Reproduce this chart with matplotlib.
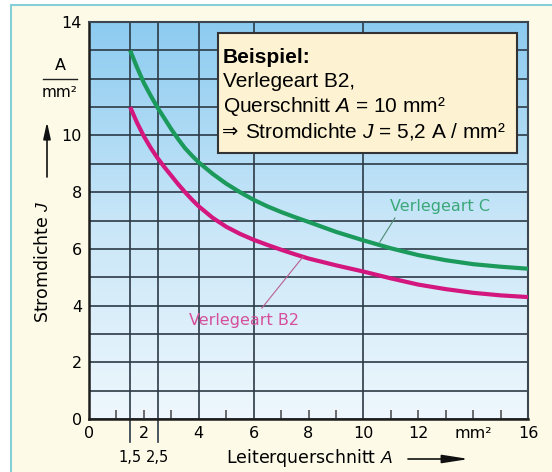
import numpy as np
import matplotlib.pyplot as plt
import matplotlib.transforms as mtransforms
from matplotlib.colors import LinearSegmentedColormap
from matplotlib.patches import Rectangle

plt.rcParams['font.family'] = ['DejaVu Sans']
plt.rcParams['mathtext.fontset'] = 'custom'
plt.rcParams['mathtext.rm'] = 'Liberation Sans'
plt.rcParams['mathtext.it'] = 'Liberation Sans:italic'
plt.rcParams['mathtext.bf'] = 'Liberation Sans:bold'

# Leiterquerschnitt A in mm^2
querschnitt = [1.5, 1.75, 2, 2.25, 2.5, 2.75, 3, 3.25, 3.5, 3.75, 4, 4.5, 5,
               5.5, 6, 6.5, 7, 7.5, 8, 9, 10, 11, 12, 13, 14, 15, 16]
# Stromdichte J in A/mm^2
j_verlegeart_c = [13.0, 12.4, 11.85, 11.4, 10.98, 10.6, 10.22, 9.87, 9.55,
                  9.29, 9.05, 8.65, 8.3, 8.0, 7.73, 7.5, 7.3, 7.12, 6.95,
                  6.6, 6.3, 6.02, 5.78, 5.6, 5.46, 5.37, 5.3]
j_verlegeart_b2 = [11.0, 10.45, 9.97, 9.56, 9.2, 8.88, 8.58, 8.28, 8.0,
                   7.74, 7.5, 7.1, 6.78, 6.53, 6.32, 6.14, 5.97, 5.81, 5.66,
                   5.42, 5.2, 4.96, 4.74, 4.58, 4.45, 4.36, 4.3]

x_ticks = [0, 2, 4, 6, 8, 10, 12, 14, 16]
x_ticklabels = ['0', '2', '4', '6', '8', '10', '12', 'mm²', '16']
x_minor = [1, 2, 3, 5, 7, 8, 9, 11, 12, 13, 14, 15]
x_grid = [1.5, 2.5, 4, 6, 10]
x_extra = [1.5, 2.5]
x_extra_labels = ['1,5', '2,5']
y_ticks = [0, 2, 4, 6, 8, 10, 12, 14]
y_ticklabels = ['0', '2', '4', '6', '8', '10', '', '14']

W, H = 552, 472
GRID = '#2c3a46'

fig = plt.figure(figsize=(W / 100, H / 100), dpi=100)
fig.patch.set_facecolor('white')

# cream page with cyan frame
fig.add_artist(Rectangle((11 / W, -0.1), 1.2, 1 - 5 / H + 0.1,
                         transform=fig.transFigure, facecolor='#fdfbe8',
                         edgecolor='#86cfd8', lw=1.5, zorder=0))

ax = fig.add_axes([89 / W, 1 - 419 / H, 439 / W, 397 / H])
ax.set_xlim(0, 16)
ax.set_ylim(0, 14)

# blue gradient background
cmap = LinearSegmentedColormap.from_list('bg', ['#eef7fd', '#c8e6f8', '#8ccbf0'])
ax.imshow(np.linspace(0, 1, 256)[:, None], cmap=cmap, origin='lower',
          extent=[0, 16, 0, 14], aspect='auto', zorder=0)

# grid
ax.set_yticks(y_ticks, y_ticklabels)
ax.set_yticks(range(15), minor=True)
ax.grid(axis='y', which='both', color=GRID, lw=1.2)
ax.grid(axis='x', visible=False)
for xv in x_grid:
    ax.axvline(xv, color=GRID, lw=1.2, zorder=1.5)

# ticks
ax.set_xticks(x_ticks, x_ticklabels)
ax.set_xticks(x_minor, minor=True)
ax.xaxis.remove_overlapping_locs = False
ax.tick_params(axis='x', which='major', length=0, pad=5, labelsize=11.5)
ax.tick_params(axis='x', which='minor', direction='in', length=6.5,
               width=1.1, color='#444444')
ax.tick_params(axis='y', which='major', length=0, pad=5, labelsize=11.5)
ax.tick_params(axis='y', which='minor', length=0)

for side in ['left', 'bottom']:
    ax.spines[side].set_color('#1e1e1e')
    ax.spines[side].set_linewidth(1.8)
for side in ['top', 'right']:
    ax.spines[side].set_color('#3c4650')
    ax.spines[side].set_linewidth(1.5)

# extra marks for 1,5 and 2,5
xtrans = ax.get_xaxis_transform()
for xv, lab in zip(x_extra, x_extra_labels):
    ax.plot([xv, xv], [0, -23 / 397], transform=xtrans, color=GRID,
            lw=1.2, clip_on=False)
    ax.text(xv, -39 / 397, lab, transform=xtrans, ha='center', va='center',
            fontsize=10.5)

# curves
ax.plot(querschnitt, j_verlegeart_c, color='#1b9a5c', lw=3, zorder=3,
        solid_capstyle='butt', solid_joinstyle='round')
ax.plot(querschnitt, j_verlegeart_b2, color='#d3177f', lw=3, zorder=3,
        solid_capstyle='butt', solid_joinstyle='round')

ax.text(12.8, 7.51, 'Verlegeart C', color='#3aa878', fontsize=11.5,
        ha='center', va='center', zorder=4)
ax.plot([11.15, 10.6], [7.09, 6.24], color='#4c8a72', lw=0.8, zorder=4)
ax.text(5.65, 3.49, 'Verlegeart B2', color='#d64f9c', fontsize=11.5,
        ha='center', va='center', zorder=4)
ax.plot([6.3, 7.8], [3.91, 5.72], color='#b8608f', lw=0.8, zorder=4)

# example box
ax.add_patch(Rectangle((0.294, 0.670), 0.681, 0.302, transform=ax.transAxes,
                       facecolor='#fdf3d2', edgecolor='#333333', lw=1.5,
                       zorder=5))
box_kw = dict(transform=ax.transAxes, fontsize=15, family='Liberation Sans',
              va='baseline', ha='left', zorder=6)
ax.text(0.305, 0.897, 'Beispiel:', fontweight='bold', **box_kw)
ax.text(0.305, 0.836, 'Verlegeart B2,', **box_kw)
ax.text(0.305, 0.773, 'Querschnitt $A$ = 10 mm²', **box_kw)
ax.text(0.303, 0.710, '⇒', transform=ax.transAxes, fontsize=14,
        family='DejaVu Sans', va='baseline', ha='left', zorder=6)
ax.text(0.355, 0.710, 'Stromdichte $J$ = 5,2 A / mm²', **box_kw)

# unit A/mm^2 on the y axis
ytrans = mtransforms.blended_transform_factory(ax.transAxes, ax.transData)
ax.text(-0.066, 12.48, 'A', transform=ytrans, ha='center', va='center',
        fontsize=11.5)
ax.text(-0.066, 11.5, 'mm²', transform=ytrans, ha='center', va='center',
        fontsize=11)
ax.plot([-0.105, -0.027], [11.99, 11.99], transform=ytrans, color='#222222',
        lw=1.0, clip_on=False)

# axis titles with arrows
fig.text(43 / W, 1 - 262 / H, 'Stromdichte $J$', rotation=90, ha='center',
         va='center', fontsize=12.5)
ax.annotate('', xy=(47 / W, 1 - 122 / H), xytext=(47 / W, 1 - 177 / H),
            xycoords='figure fraction', textcoords='figure fraction',
            arrowprops=dict(arrowstyle='-|>,head_length=1.0,head_width=0.22',
                            color='#111111', lw=1.2, shrinkA=0, shrinkB=0))
fig.text(309 / W, 1 - 458 / H, 'Leiterquerschnitt $A$', ha='center',
         va='center', fontsize=12.5)
ax.annotate('', xy=(469 / W, 1 - 459 / H), xytext=(408 / W, 1 - 459 / H),
            xycoords='figure fraction', textcoords='figure fraction',
            arrowprops=dict(arrowstyle='-|>,head_length=1.6,head_width=0.25',
                            color='#111111', lw=1.2, shrinkA=0, shrinkB=0))

fig.savefig('out.png', dpi=100)
